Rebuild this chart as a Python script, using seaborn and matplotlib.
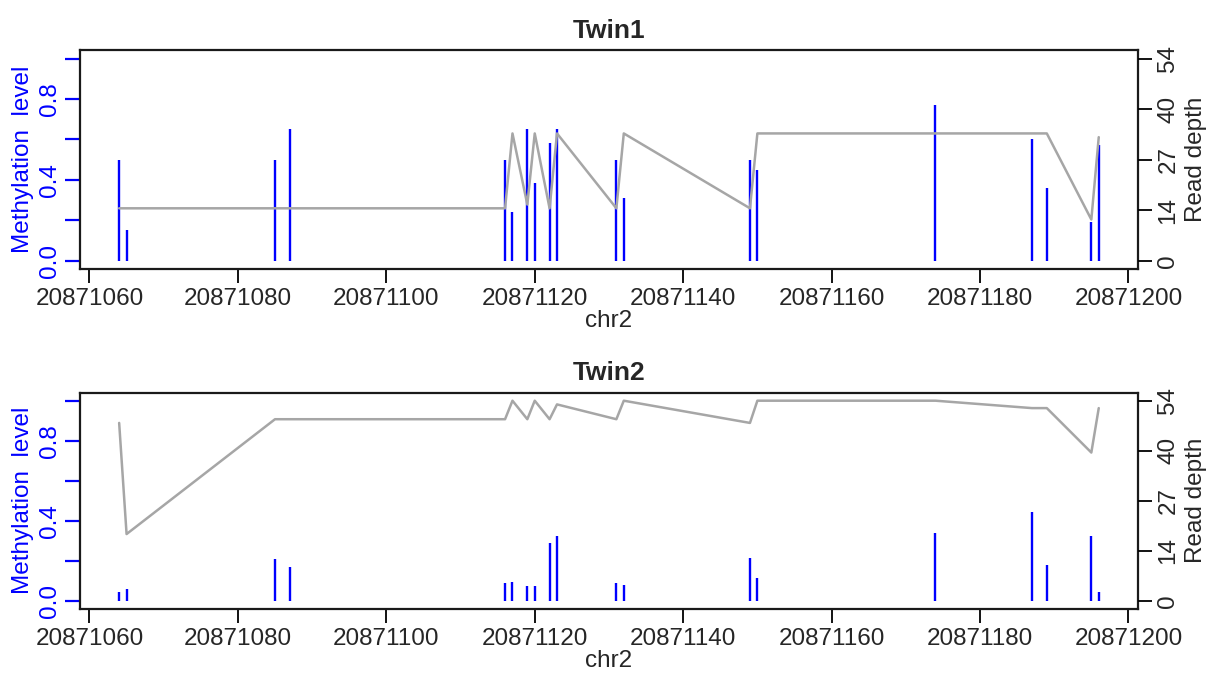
import numpy as np
import matplotlib
matplotlib.use("Agg")
import matplotlib.pyplot as plt
import seaborn as sns

# -------------------
# DATA
# -------------------
chrom_start = 20871000
offsets = [64, 65, 85, 87, 116, 117, 119, 120, 122, 123,
           131, 132, 149, 150, 174, 187, 189, 195, 196]
positions = [chrom_start + o for o in offsets]

twin1_meth = [0.50, 0.15, 0.50, 0.65, 0.50, 0.24, 0.65, 0.385, 0.58, 0.65,
              0.50, 0.31, 0.50, 0.45, 0.77, 0.60, 0.36, 0.19, 0.57]
twin1_depth = [14, 14, 14, 14, 14, 34, 15, 34, 14, 34,
               14, 34, 14, 34, 34, 34, 34, 11, 33]

twin2_meth = [0.042, 0.058, 0.207, 0.17, 0.087, 0.095, 0.073, 0.075, 0.287, 0.323,
              0.087, 0.078, 0.215, 0.115, 0.337, 0.445, 0.178, 0.325, 0.042]
twin2_depth = [48, 18, 49, 49, 49, 54, 49, 54, 49, 53,
               49, 54, 48, 54, 54, 52, 52, 40, 52]

x_ticks = [20871060, 20871080, 20871100, 20871120, 20871140, 20871160, 20871180, 20871200]
meth_ticks = [0.0, 0.2, 0.4, 0.6, 0.8, 1.0]
meth_labels = ["0.0", "", "0.4", "", "0.8", ""]

panels = [
    ("Twin1", twin1_meth, twin1_depth),
    ("Twin2", twin2_meth, twin2_depth),
]

# -------------------
# STYLE
# -------------------
sns.set_style("white")
plt.rcParams["font.family"] = ["Liberation Sans", "DejaVu Sans"]

FS = 17.5
BLUE = "#0000FF"
GREY = "#A6A6A6"

max_depth = max(max(twin1_depth), max(twin2_depth))
depth_ticks = np.linspace(0, max_depth, 5)
depth_labels = [str(int(round(v))) for v in depth_ticks]

xmin, xmax = min(positions), max(positions)
xpad = 0.04 * (xmax - xmin)

fig = plt.figure(figsize=(12.08, 6.73), dpi=100)

boxes = [
    [0.0662, 0.6006, 0.8758, 0.3244],
    [0.0662, 0.0955, 0.8758, 0.3210],
]

for (name, meth, depth), box in zip(panels, boxes):
    ax = fig.add_axes(box)

    # methylation "h" bars
    ax.vlines(positions, 0, meth, color=BLUE, lw=1.7)
    ax.set_xlim(xmin - xpad, xmax + xpad)
    ax.set_ylim(-0.04, 1.04)

    ax.set_xticks(x_ticks)
    ax.set_xticklabels([str(t) for t in x_ticks], fontsize=FS)
    ax.set_yticks(meth_ticks)
    ax.set_yticklabels(meth_labels, fontsize=FS, color=BLUE,
                       rotation=90, va="center")
    ax.tick_params(axis="x", length=10, width=1.3, color="black",
                   direction="out", pad=4, bottom=True)
    ax.tick_params(axis="y", length=11, width=1.6, color=BLUE,
                   direction="out", pad=3, left=True)
    ax.set_xlabel("chr2", fontsize=FS, labelpad=0)
    ax.set_ylabel("Methylation  level", fontsize=FS, color=BLUE, labelpad=3)
    ax.set_title(name, fontsize=19, fontweight="bold", pad=9)

    for s in ax.spines.values():
        s.set_color("#1a1a1a")
        s.set_linewidth(1.6)

    # read depth line on the right axis
    ax2 = ax.twinx()
    sns.lineplot(x=positions, y=depth, ax=ax2, color=GREY, lw=1.8)
    ax2.set_ylim(-0.04 * max_depth, 1.04 * max_depth)
    ax2.set_yticks(depth_ticks)
    ax2.set_yticklabels(depth_labels, fontsize=FS, rotation=90, va="center")
    ax2.tick_params(axis="y", length=10, width=1.3, color="black",
                    direction="out", pad=4, right=True)
    ax2.set_ylabel("Read depth", fontsize=FS, rotation=90, labelpad=4)
    for s in ax2.spines.values():
        s.set_visible(False)

fig.savefig("out.png", dpi=100)
